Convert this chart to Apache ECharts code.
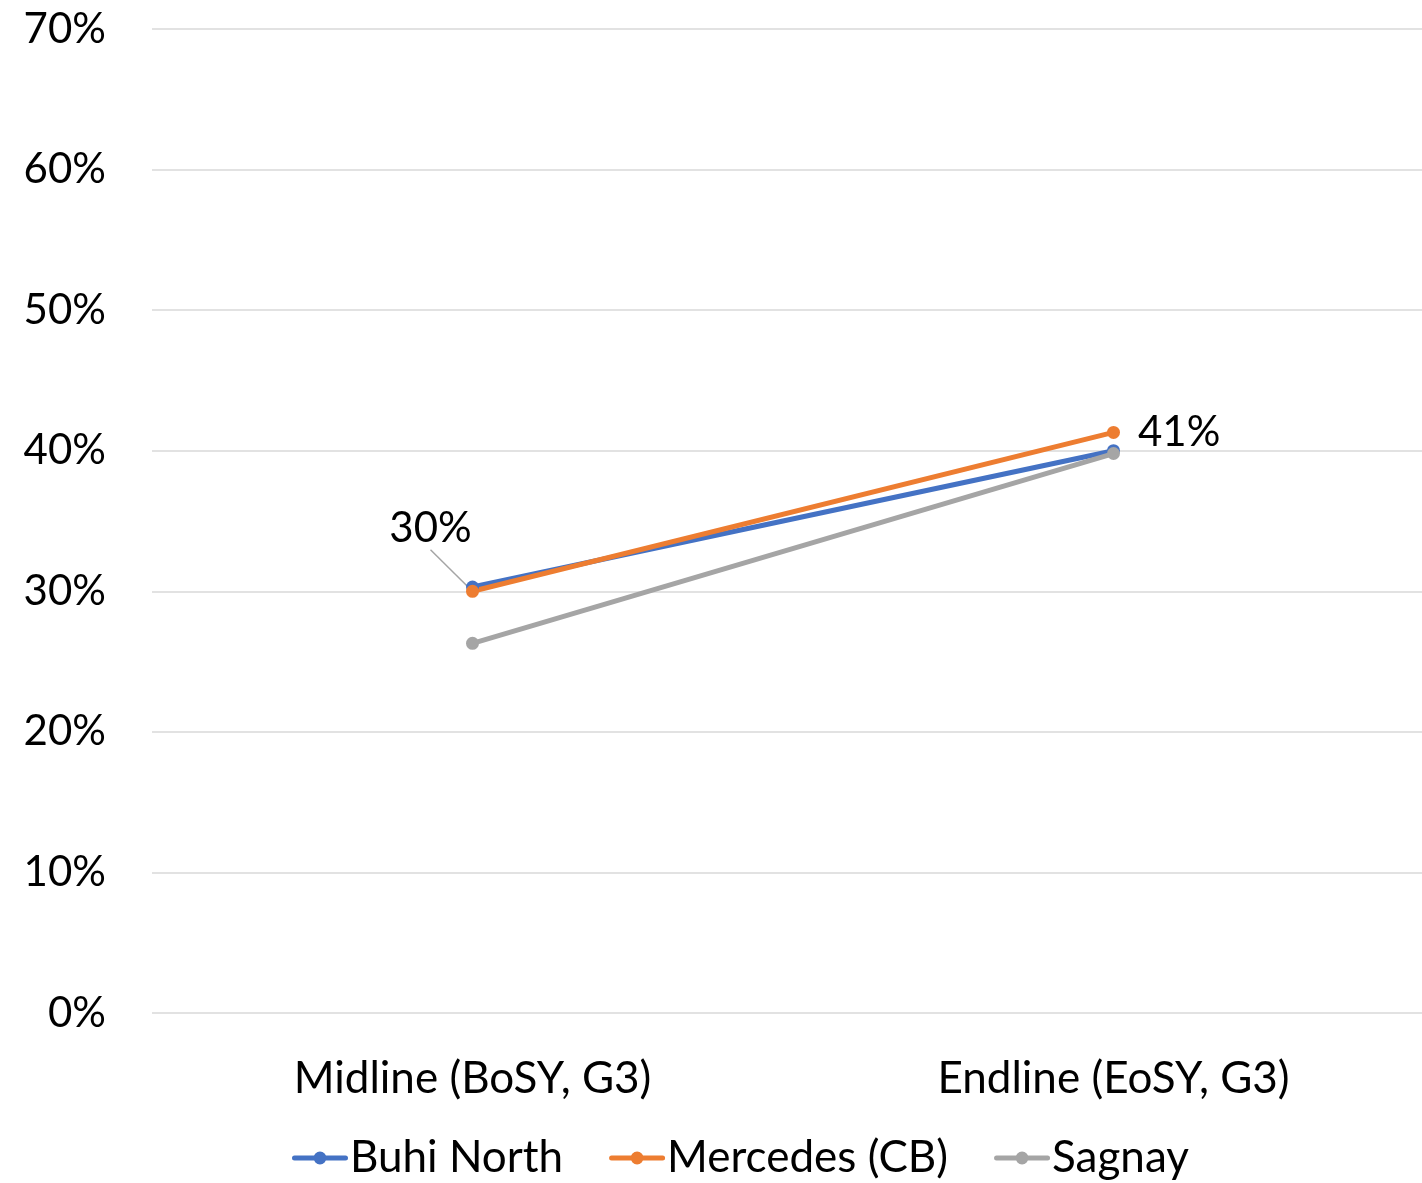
<!DOCTYPE html>
<html>
<head>
<meta charset="utf-8">
<script src="https://cdn.jsdelivr.net/npm/echarts@6/dist/echarts.min.js"></script>
<style>
  html, body { margin: 0; padding: 0; background: #fff; }
  #chart { width: 1422px; height: 1183px; }
</style>
</head>
<body>
<div id="chart"></div>
<script>
// Reading scores by district, midline vs endline
const categories = ['Midline (BoSY, G3)', 'Endline (EoSY, G3)'];
const buhiNorth = [30.3, 40.0];
const mercedes = [30.0, 41.3];
const sagnay = [26.3, 39.8];
const mercedesLabels = ['30%', '41%'];
const yTicks = [0, 10, 20, 30, 40, 50, 60, 70];

const FONT = 'Lato, "Noto Sans", sans-serif';
const FS = 44;
const FS_NUM = 42;

// legend marker: thick round-capped line with a dot in the middle
const LEGEND_ICON = 'path://M2.5,4 L53.5,4 A2.5,2.5 0 0,1 53.5,9 L2.5,9 A2.5,2.5 0 0,1 2.5,4 Z ' +
  'M21.5,6.5 A6.5,6.5 0 1,1 34.5,6.5 A6.5,6.5 0 1,1 21.5,6.5 Z';

const chart = echarts.init(document.getElementById('chart'));

function lineSeries(name, data, color) {
  return {
    name: name,
    type: 'line',
    data: data,
    symbol: 'circle',
    symbolSize: 13,
    lineStyle: { width: 5, color: color },
    itemStyle: { color: color },
    emphasis: { disabled: true }
  };
}

const mercedesSeries = lineSeries('Mercedes (CB)', mercedes, '#ED7D31');
mercedesSeries.label = {
  show: true,
  fontSize: FS_NUM,
  fontFamily: FONT,
  color: '#000',
  formatter: p => mercedesLabels[p.dataIndex]
};
mercedesSeries.data = mercedes.map((v, i) => i === 1
  ? { value: v, label: { position: 'right', distance: 18 }, labelLine: { show: false } }
  : { value: v, label: { position: 'top' } });
mercedesSeries.labelLine = { show: true, lineStyle: { color: '#A5A5A5', width: 1.5 } };
mercedesSeries.labelLayout = p => p.dataIndex === 0 ? { dx: -42, dy: -30 } : {};

chart.setOption({
  animation: false,
  backgroundColor: '#fff',
  grid: { left: 152, width: 1282, top: 29, bottom: 170, containLabel: false, outerBoundsMode: 'none' },
  legend: {
    bottom: -2,
    left: 287,
    icon: LEGEND_ICON,
    itemWidth: 56,
    itemHeight: 13,
    itemGap: 46,
    textStyle: { fontSize: FS, fontFamily: FONT, color: '#000', padding: [0, 0, 0, -3] },
    data: ['Buhi North', 'Mercedes (CB)', 'Sagnay']
  },
  xAxis: {
    type: 'category',
    data: categories,
    axisLine: { show: false },
    axisTick: { show: false },
    axisLabel: { fontSize: FS, fontFamily: FONT, color: '#000', margin: 44 }
  },
  yAxis: {
    type: 'value',
    min: yTicks[0],
    max: yTicks[yTicks.length - 1],
    interval: 10,
    axisLine: { show: false },
    axisTick: { show: false },
    axisLabel: { fontSize: FS_NUM, fontFamily: FONT, color: '#000', margin: 46, formatter: v => v + '%' },
    splitLine: { lineStyle: { color: '#D9D9D9', width: 1.5 } }
  },
  series: [
    lineSeries('Buhi North', buhiNorth, '#4472C4'),
    mercedesSeries,
    lineSeries('Sagnay', sagnay, '#A5A5A5')
  ]
});
</script>
</body>
</html>
